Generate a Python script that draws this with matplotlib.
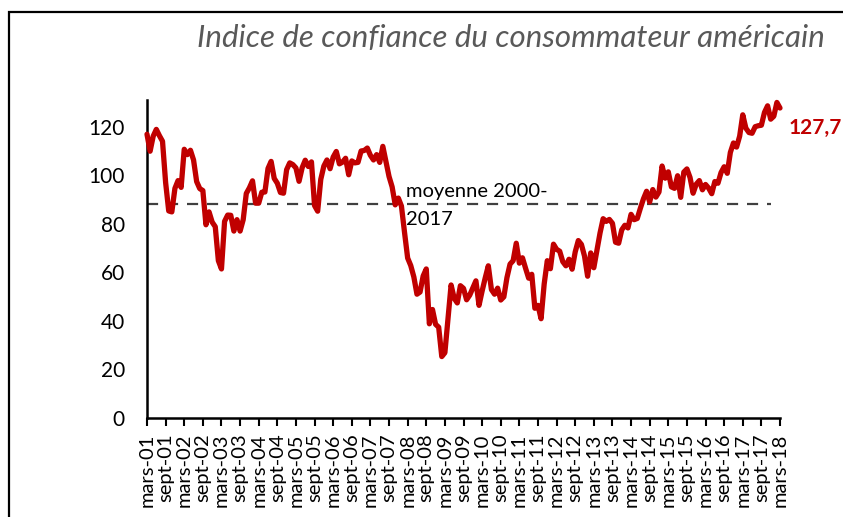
import matplotlib
matplotlib.use("Agg")
import matplotlib.pyplot as plt
from matplotlib.patches import Rectangle

plt.rcParams["font.family"] = ["Lato", "DejaVu Sans"]

# Conference Board consumer confidence, monthly, mars-01 .. mars-18
start_year, start_month = 2001, 3
indice = [
    116.9, 109.9, 116.1, 118.9, 116.3, 114.0, 97.0, 85.3, 84.9, 94.6,            # 2001 (mar-dec)
    97.8, 95.0, 110.7, 108.5, 110.3, 106.3, 97.4, 94.5, 93.7, 79.6, 84.9, 80.7,  # 2002
    78.8, 64.8, 61.4, 81.0, 83.6, 83.5, 77.0, 81.7, 77.0, 81.7, 92.5, 94.8,      # 2003
    97.7, 88.5, 88.5, 93.0, 93.1, 102.8, 105.7, 98.7, 96.7, 92.9, 92.6, 102.3,   # 2004
    105.1, 104.4, 103.0, 97.5, 103.1, 106.2, 103.6, 105.5, 87.5, 85.2, 98.3, 103.8,  # 2005
    106.3, 102.7, 107.5, 109.8, 104.7, 105.4, 107.0, 100.2, 105.9, 105.1, 105.3, 110.0,  # 2006
    110.2, 111.2, 108.2, 106.3, 108.5, 105.3, 111.9, 105.6, 99.5, 95.2, 87.8, 90.6,  # 2007
    87.3, 76.4, 65.9, 62.8, 58.1, 51.0, 51.9, 58.5, 61.4, 38.8, 44.7, 38.6,      # 2008
    37.4, 25.3, 26.9, 40.8, 54.8, 49.3, 47.4, 54.5, 53.4, 48.7, 50.6, 53.6,      # 2009
    56.5, 46.4, 52.3, 57.7, 62.7, 52.9, 51.0, 53.5, 48.6, 49.9, 57.8, 63.4,      # 2010
    64.8, 72.0, 63.8, 66.0, 61.7, 57.6, 59.2, 45.2, 46.4, 40.9, 55.2, 64.8,      # 2011
    61.5, 71.6, 69.5, 68.7, 64.4, 62.7, 65.4, 61.3, 68.4, 73.1, 71.5, 66.7,      # 2012
    58.4, 68.0, 61.9, 69.0, 76.2, 82.1, 81.0, 81.8, 80.2, 72.4, 72.0, 77.5,      # 2013
    79.4, 78.3, 83.9, 81.7, 82.2, 86.4, 90.3, 93.4, 89.0, 94.1, 91.0, 93.1,      # 2014
    103.8, 98.8, 101.4, 95.2, 94.6, 99.8, 90.9, 101.3, 102.6, 99.1, 92.6, 96.3,  # 2015
    97.8, 94.0, 96.2, 94.7, 92.4, 97.4, 96.7, 101.1, 103.5, 100.8, 109.4, 113.3,  # 2016
    111.6, 116.1, 124.9, 119.4, 117.6, 117.3, 120.0, 120.4, 120.6, 125.9, 128.6, 123.1,  # 2017
    124.3, 130.0, 127.7,                                                          # 2018
]
moyenne = 88.0          # moyenne 2000-2017
moyenne_n = 202         # mars-01 .. déc-17
yticks = [0, 20, 40, 60, 80, 100, 120]

x = list(range(len(indice)))
labels = []
for i in x:
    m = (start_month - 1 + i) % 12 + 1
    y = start_year + (start_month - 1 + i) // 12
    if m == 3:
        labels.append("mars-%02d" % (y % 100))
    elif m == 9:
        labels.append("sept-%02d" % (y % 100))
    else:
        labels.append(None)
tick_pos = [i for i, l in enumerate(labels) if l]
tick_lab = [l for l in labels if l]

W, H = 843, 517
fig = plt.figure(figsize=(W / 100, H / 100), dpi=100)
# outer frame
fig.patches.append(Rectangle((9 / W, -0.1), 1.2, 1 - 12 / H + 0.1, transform=fig.transFigure,
                             fill=False, edgecolor="black", linewidth=1.6))

ax = fig.add_axes([147 / W, 1 - 418 / H, (780 - 147) / W, 318 / H])
ax.plot(x, indice, color="#C00000", linewidth=3.8, solid_joinstyle="round",
        solid_capstyle="round", clip_on=False, zorder=3)
ax.plot(x[:moyenne_n], [moyenne] * moyenne_n, color="#404040", linewidth=1.6,
        dashes=(5, 4), zorder=2)

ax.set_xlim(0, len(indice) - 1)
ax.set_ylim(0, 131)
ax.set_yticks(yticks)
ax.set_yticklabels([str(v) for v in yticks], fontsize=15)
ax.tick_params(axis="y", length=0, pad=16)
ax.set_xticks(tick_pos)
ax.set_xticklabels(tick_lab, rotation=90, fontsize=14.5)
ax.tick_params(axis="x", direction="out", length=6, width=1.5, pad=5)
for s in ["top", "right"]:
    ax.spines[s].set_visible(False)
for s in ["left", "bottom"]:
    ax.spines[s].set_linewidth(1.8)

ax.text(83.5, 87.6, "moyenne 2000-\n2017", fontsize=14.5, color="black", va="center",
        linespacing=1.75)
ax.text(len(indice) + 1.7, 119.5, "127,7", color="#C00000",
        fontsize=15, fontweight="bold", va="center", ha="left", clip_on=False)

fig.text(825 / W, 1 - 38 / H, "Indice de confiance du consommateur américain",
         fontsize=22.5, style="italic", color="#595959", ha="right", va="center")

fig.savefig("out.png", dpi=100)
